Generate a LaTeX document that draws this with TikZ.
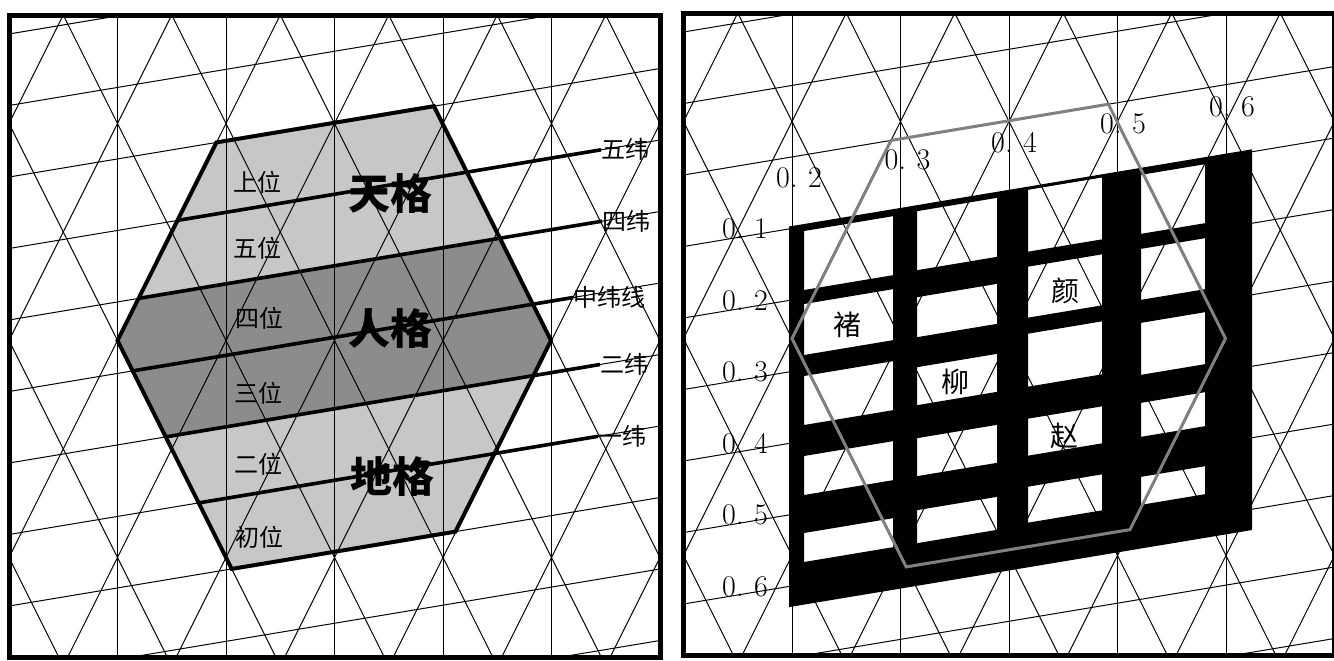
\documentclass[tikz,border=0pt]{standalone}
\usepackage{fontspec}
\newfontfamily\cjk{Noto Sans CJK SC}
\newcommand\decval[1]{0.\hspace{0.35em}#1}
\newcommand\weftgrid{%
  \begin{scope}
    \clip (9,15) rectangle (660,657);
    \foreach \i in {1,...,5}
      \draw[grid] ({9+108.5*\i},15) -- ({9+108.5*\i},657);
    \foreach \j in {-4,...,9} {
      \draw[grid] ({43.25+108.5*\j},-25) -- ({394.25+108.5*\j},677);
      \draw[grid] ({83.25+108.5*\j},-25) -- ({-267.75+108.5*\j},677);
    }
    \foreach \k in {0,...,10}
      \draw[grid] (9,{34+71.5*\k}) -- (660,{-74.5+71.5*\k});
  \end{scope}
  \draw[frame] (9,15) rectangle (660,657);
}
\begin{document}
\begin{tikzpicture}[x=0.5pt,y=-0.5pt,
    grid/.style={line width=0.5pt},
    frame/.style={line width=2.5pt,line join=miter},
    weft/.style={line width=1.8pt},
    hexline/.style={line width=2pt,line join=miter},
    grayhex/.style={draw=black!50,line width=1.5pt,line join=miter},
    lightband/.style={fill=black!22},
    darkband/.style={fill=black!45},
    weftlabel/.style={inner sep=0pt,font=\cjk\fontsize{12}{12}\selectfont},
    poslabel/.style={inner sep=0pt,font=\cjk\fontsize{12}{12}\selectfont},
    gelabel/.style={inner sep=0pt,font=\cjk\bfseries\fontsize{21}{21}\selectfont},
    surname/.style={inner sep=0pt,font=\cjk\fontsize{14}{14}\selectfont},
    ticklabel/.style={inner sep=0pt,font=\fontsize{15}{15}\selectfont}]
\useasboundingbox (0,0) rectangle (1334,660);

\coordinate (hl) at (117.5,340.5);
\coordinate (htl) at (216.5,142.4);
\coordinate (htr) at (433.9,106.2);
\coordinate (hr) at (551,340.5);
\coordinate (hbr) at (455.5,531.6);
\coordinate (hbl) at (231.7,568.9);
\fill[lightband] (hl) -- (htl) -- (htr) -- (hr) -- (hbr) -- (hbl) -- cycle;
\begin{scope}
  \clip (hl) -- (htl) -- (htr) -- (hr) -- (hbr) -- (hbl) -- cycle;
  \fill[darkband] (0,321.5) -- (700,204.8) -- (700,347.8) -- (0,464.5) -- cycle;
\end{scope}
\weftgrid
\draw[hexline] (hl) -- (htl) -- (htr) -- (hr) -- (hbr) -- (hbl) -- cycle;

\coordinate (wu0) at (177.6,220.4);
\coordinate (si0) at (138.6,298.4);
\coordinate (zhong0) at (132.7,370.9);
\coordinate (er0) at (165.7,436.9);
\coordinate (yi0) at (198.7,502.9);
\node[weftlabel,anchor=west] (wu) at (601,149.8) {五纬};
\node[weftlabel,anchor=west] (si) at (602,221.2) {四纬};
\node[weftlabel,anchor=west] (zhong) at (573,297.5) {中纬线};
\node[weftlabel,anchor=west] (er) at (600,364.5) {二纬};
\node[weftlabel,anchor=west] (yi) at (598,436.3) {一纬};
\draw[weft] (wu0) -- (wu.west);
\draw[weft] (si0) -- (si.west);
\draw[weft] (zhong0) -- (zhong.west);
\draw[weft] (er0) -- (er.west);
\draw[weft] (yi0) -- (yi.west);

\node[poslabel] (p6) at (257,182) {上位};
\node[poslabel] (p5) at (257,248) {五位};
\node[poslabel] (p4) at (259,318) {四位};
\node[poslabel] (p3) at (258,393) {三位};
\node[poslabel] (p2) at (258,464) {二位};
\node[poslabel] (p1) at (259,537) {初位};
\node[gelabel] (tian) at (390,194) {天格};
\node[gelabel] (ren) at (390,329) {人格};
\node[gelabel] (di) at (392,477) {地格};

\begin{scope}[shift={(674.5,-2)}]
  \weftgrid
\end{scope}
\fill[even odd rule] (789,226.5) -- (1252,149.3) -- (1252,530) -- (789,607.1) -- cycle
  \foreach \xa/\xb/\ta/\ba in {804/893/365/424, 804/893/438/489, 804/893/510/559, 804/893/590/629, 804/893/667/696,
                              917/997/364/423, 917/997/450/490, 917/997/520/558, 917/997/591/629, 917/997/663/696,
                              1028/1102/361/423, 1028/1102/438/489, 1028/1102/505/558, 1028/1102/590/627, 1028/1102/658/694,
                              1141/1205/365/424, 1141/1205/439/490, 1141/1205/513/565, 1141/1205/593/627, 1141/1205/667/695}
  {(\xa,{\ta-\xa/6}) -- (\xb,{\ta-\xb/6}) -- (\xb,{\ba-\xb/6}) -- (\xa,{\ba-\xa/6}) -- cycle};
\begin{scope}[shift={(674.5,-2)}]
  \coordinate (gl) at (117.5,340.5);
  \coordinate (gtl) at (216.5,142.4);
  \coordinate (gtr) at (433.9,106.2);
  \coordinate (gr) at (551,340.5);
  \coordinate (gbr) at (455.5,531.6);
  \coordinate (gbl) at (231.7,568.9);
  \draw[grayhex] (gl) -- (gtl) -- (gtr) -- (gr) -- (gbr) -- (gbl) -- cycle;
\end{scope}

\node[ticklabel] (c2) at (799,178) {\decval{2}};
\node[ticklabel] (c3) at (907.5,160) {\decval{3}};
\node[ticklabel] (c4) at (1014,143) {\decval{4}};
\node[ticklabel] (c5) at (1123,124) {\decval{5}};
\node[ticklabel] (c6) at (1232,107) {\decval{6}};
\node[ticklabel] (r1) at (745,229) {\decval{1}};
\node[ticklabel] (r2) at (745,300.5) {\decval{2}};
\node[ticklabel] (r3) at (745,372) {\decval{3}};
\node[ticklabel] (r4) at (745,443.5) {\decval{4}};
\node[ticklabel] (r5) at (745,515) {\decval{5}};
\node[ticklabel] (r6) at (745,586.5) {\decval{6}};

\node[surname] (chu) at (847,325) {褚};
\node[surname] (yan) at (1065,291) {颜};
\node[surname] (liu) at (955,382) {柳};
\node[surname] (zhao) at (1064,436) {赵};
\end{tikzpicture}
\end{document}
